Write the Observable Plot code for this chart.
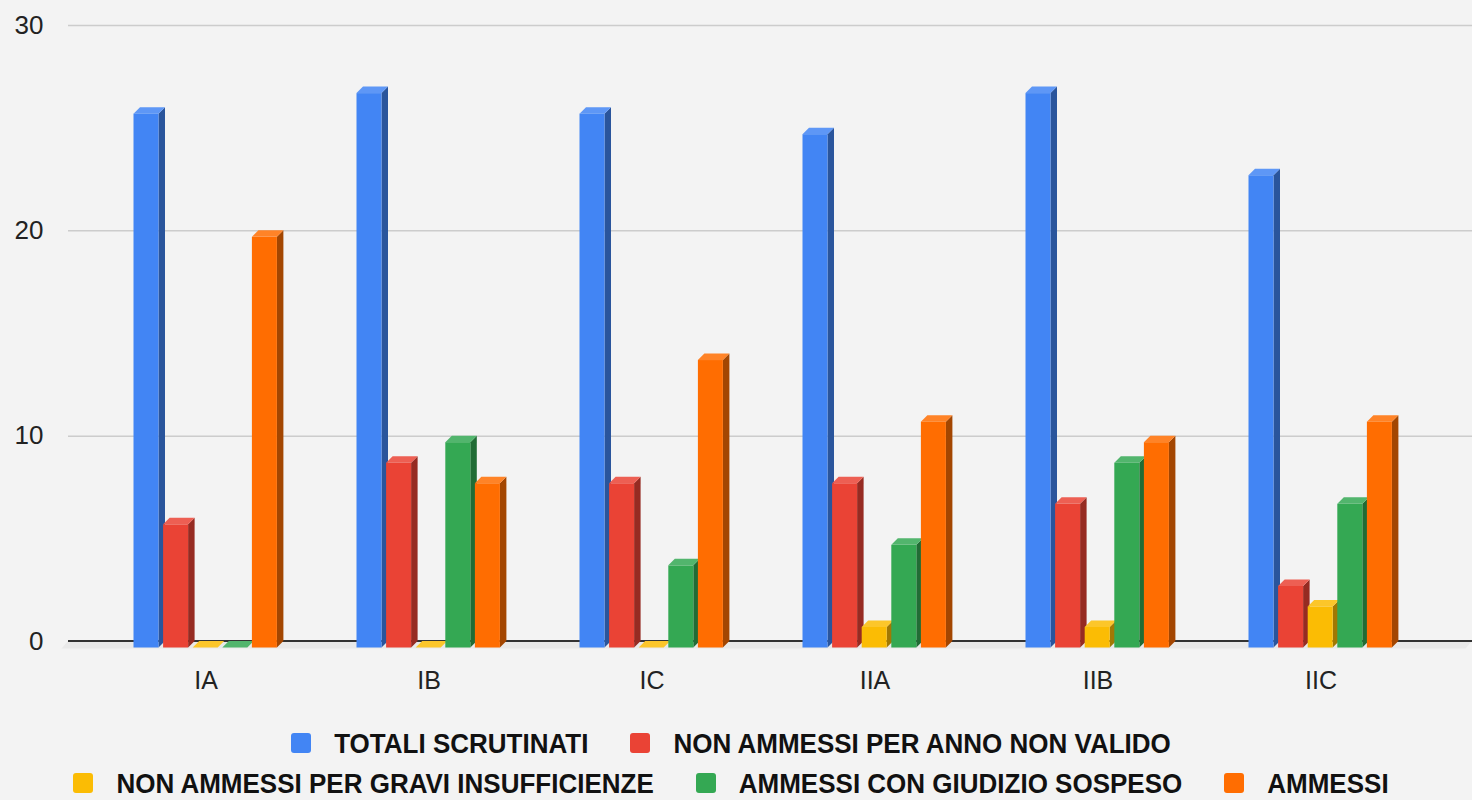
<!DOCTYPE html>
<html>
<head>
<meta charset="utf-8">
<script src="https://cdn.jsdelivr.net/npm/d3@7"></script>
<script src="https://cdn.jsdelivr.net/npm/@observablehq/plot@0.6"></script>
<style>
  html, body { margin: 0; padding: 0; background: #f3f3f3; overflow: hidden; }
  #chart svg { display: block; }
  #legend { font-family: "Liberation Sans", Arial, sans-serif; font-weight: bold; font-size: 26px; color: #111; padding-top: 8px; padding-right: 10px; }
  .row { display: flex; justify-content: center; align-items: center; height: 40px; }
  .item { display: flex; align-items: center; margin: 0 21px; }
  .sw { width: 20px; height: 20px; border-radius: 3px; margin-right: 23px; }
  .lbl { display: inline-block; transform: scaleY(1.08); white-space: nowrap; }
</style>
</head>
<body>
<div id="chart"></div>
<div id="legend"></div>
<script>
// ---- data ----
const classi = ["IA", "IB", "IC", "IIA", "IIB", "IIC"];
const serie = [
  "TOTALI SCRUTINATI",
  "NON AMMESSI PER ANNO NON VALIDO",
  "NON AMMESSI PER GRAVI INSUFFICIENZE",
  "AMMESSI CON GIUDIZIO SOSPESO",
  "AMMESSI"
];
const colori = ["#4285f4", "#ea4335", "#fbbc04", "#34a853", "#ff6d01"];
const totaliScrutinati = [26, 27, 26, 25, 27, 23];
const nonAmmessiAnno = [6, 9, 8, 8, 7, 3];
const nonAmmessiGravi = [0, 0, 0, 1, 1, 2];
const giudizioSospeso = [0, 10, 4, 5, 9, 7];
const ammessi = [20, 8, 14, 11, 10, 11];
const yTicks = [0, 10, 20, 30];

const valori = [totaliScrutinati, nonAmmessiAnno, nonAmmessiGravi, giudizioSospeso, ammessi];
const rows = classi.flatMap((c, i) => serie.map((s, k) => ({classe: c, serie: s, valore: valori[k][i]})));

// ---- layout ----
const W = 1472, H = 715;
const xRange = [93.5, 1431.5];
const depth = 6.5;

function render3d(index, scales, values, dimensions) {
  const g = d3.create("svg:g");
  const bw = (xRange[1] - xRange[0]) / classi.length;
  const inner = d3.scaleBand(serie, [-72, 71.4]).paddingInner(0.1554);
  const w = inner.bandwidth();
  const y0 = scales.y(0);
  // floor plane
  const L = dimensions.marginLeft, R = dimensions.width - dimensions.marginRight;
  g.append("polygon")
    .attr("points", [[L, y0], [R, y0], [R - depth, y0 + depth + 1], [L - depth, y0 + depth + 1]].join(" "))
    .attr("fill", "#e9e9e9");
  g.append("line").attr("x1", L).attr("x2", R).attr("y1", y0).attr("y2", y0)
    .attr("stroke", "#333").attr("stroke-width", 2);
  for (const i of index) {
    const d = rows[i];
    const base = d3.color(scales.color(d.serie));
    const side = base.darker(1.25).formatHex();
    const top = d3.interpolateRgb(base.formatHex(), "#ffffff")(0.15);
    const c = scales.x(d.classe) + bw / 2;
    const xl = c + inner(d.serie);
    const yt = scales.y(d.valore);
    // side face
    g.append("polygon")
      .attr("points", [[xl + w, yt + depth], [xl + w + depth, yt], [xl + w + depth, y0], [xl + w, y0 + depth]].join(" "))
      .attr("fill", side);
    // front face
    g.append("rect")
      .attr("x", xl).attr("y", yt + depth)
      .attr("width", w).attr("height", Math.max(0, y0 - yt))
      .attr("fill", base.formatHex());
    // top face
    g.append("polygon")
      .attr("points", [[xl, yt + depth], [xl + depth, yt], [xl + w + depth, yt], [xl + w, yt + depth]].join(" "))
      .attr("fill", top);
  }
  return g.node();
}

const chart = Plot.plot({
  width: W,
  height: H,
  marginTop: 25,
  marginBottom: 74,
  marginLeft: 68,
  marginRight: 0,
  style: {background: "#f3f3f3", fontFamily: "'Liberation Sans', Arial, sans-serif", fontSize: "25px", color: "#222"},
  x: {domain: classi, range: xRange, padding: 0},
  y: {domain: [0, 30]},
  color: {domain: serie, range: colori},
  marks: [
    Plot.ruleY(yTicks.filter(t => t > 0), {stroke: "#cccccc", strokeWidth: 1.5}),
    Plot.axisY(yTicks, {tickSize: 0, tickPadding: 25, label: null, fontSize: 26}),
    Plot.axisX({tickSize: 0, tickPadding: 30, label: null}),
    Plot.barY(rows, {x: "classe", y: "valore", fill: "serie", render: render3d})
  ]
});
document.getElementById("chart").append(chart);

// ---- legend ----
const legend = d3.select("#legend");
const righe = [[0, 1], [2, 3, 4]];
for (const r of righe) {
  const row = legend.append("div").attr("class", "row");
  for (const k of r) {
    const it = row.append("div").attr("class", "item");
    it.append("div").attr("class", "sw").style("background", colori[k]);
    it.append("span").attr("class", "lbl").text(serie[k]);
  }
}
</script>
</body>
</html>
